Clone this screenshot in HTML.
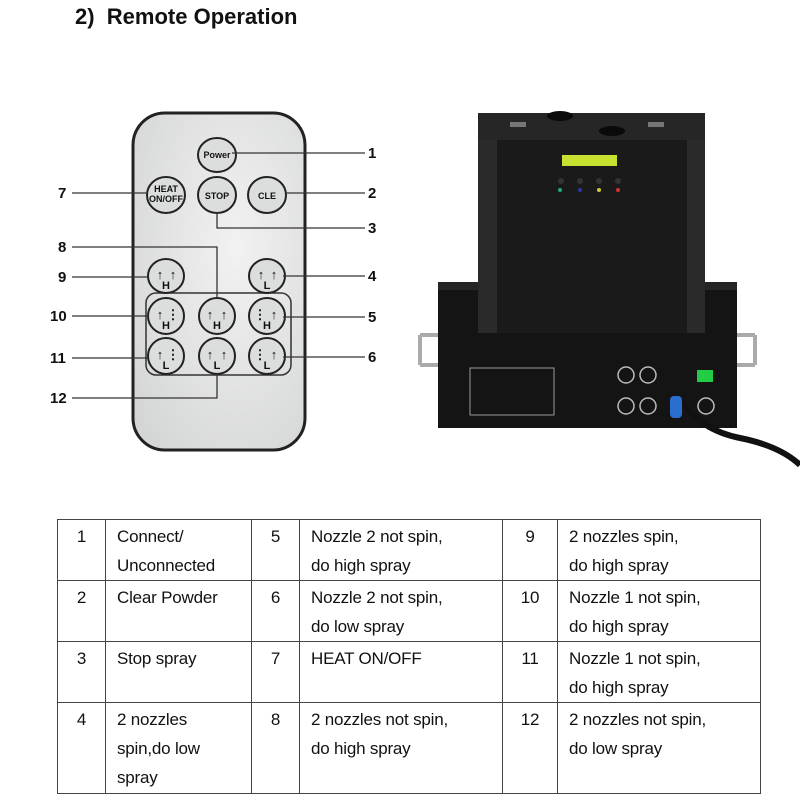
<!DOCTYPE html>
<html><head><meta charset="utf-8"><style>
html,body{margin:0;padding:0;background:#fff;width:800px;height:800px;overflow:hidden;font-family:"Liberation Sans",sans-serif}
.t{position:absolute;left:75px;top:4px;font-size:22px;font-weight:bold;color:#111}
table{position:absolute;left:57px;top:519px;border-collapse:collapse;font-size:17px;color:#111;letter-spacing:-0.2px}
td{border:1.6px solid #444;vertical-align:top;padding:2px 0 0 11px;line-height:29px;box-sizing:border-box}
td.n{text-align:center;padding-left:0}
</style></head><body>
<div class="t">2)&nbsp; Remote Operation</div>
<svg width="800" height="500" style="position:absolute;left:0;top:0" font-family="Liberation Sans, sans-serif">
<defs><radialGradient id="bg" cx="0.6" cy="0.4" r="0.8"><stop offset="0" stop-color="#f1f2f1"/><stop offset="1" stop-color="#d3d5d4"/></radialGradient></defs>
<rect x="133" y="113" width="172" height="337" rx="32" fill="url(#bg)" stroke="#222" stroke-width="3"/>
<rect x="146" y="293" width="145" height="82" rx="10" fill="none" stroke="#333" stroke-width="1.5"/>
<g fill="#dcdedd" stroke="#222" stroke-width="2">
<ellipse cx="217" cy="155" rx="19" ry="17"/>
<ellipse cx="166" cy="195" rx="19" ry="18"/><ellipse cx="217" cy="195" rx="19" ry="18"/><ellipse cx="267" cy="195" rx="19" ry="18"/>
<ellipse cx="166" cy="276" rx="18" ry="17"/><ellipse cx="267" cy="276" rx="18" ry="17"/>
<ellipse cx="166" cy="316" rx="18" ry="18"/><ellipse cx="217" cy="316" rx="18" ry="18"/><ellipse cx="267" cy="316" rx="18" ry="18"/>
<ellipse cx="166" cy="356" rx="18" ry="18"/><ellipse cx="217" cy="356" rx="18" ry="18"/><ellipse cx="267" cy="356" rx="18" ry="18"/>
</g>
<g font-size="9" font-weight="bold" text-anchor="middle" fill="#111">
<text x="217" y="158">Power</text><text x="166" y="192">HEAT</text><text x="166" y="202">ON/OFF</text>
<text x="217" y="199">STOP</text><text x="267" y="199">CLE</text>
<g font-size="11"><text x="166" y="289">H</text><text x="267" y="289">L</text>
<text x="166" y="329">H</text><text x="217" y="329">H</text><text x="267" y="329">H</text>
<text x="166" y="369">L</text><text x="217" y="369">L</text><text x="267" y="369">L</text></g>
<g font-size="13"><text x="160" y="279">↑</text><text x="173" y="279">↑</text><text x="261" y="279">↑</text><text x="274" y="279">↑</text>
<text x="160" y="319">↑</text><text x="210" y="319">↑</text><text x="224" y="319">↑</text><text x="274" y="319">↑</text>
<text x="160" y="359">↑</text><text x="210" y="359">↑</text><text x="224" y="359">↑</text><text x="274" y="359">↑</text>
<text x="173" y="319">⋮</text><text x="260" y="319">⋮</text><text x="173" y="359">⋮</text><text x="260" y="359">⋮</text></g>
</g>
<g stroke="#333" stroke-width="1.3" fill="none">
<path d="M232 153H365M285 193H365M217 212V228H365M72 193H148M72 247H217V298M72 277H148M283 276H365M72 316H148M283 317H365M72 358H148M283 357H365M217 374V398H72"/>
</g>
<g font-size="15" font-weight="bold" fill="#111">
<text x="368" y="158">1</text><text x="368" y="198">2</text><text x="368" y="233">3</text><text x="368" y="281">4</text><text x="368" y="322">5</text><text x="368" y="362">6</text>
<text x="58" y="198">7</text><text x="58" y="252">8</text><text x="58" y="282">9</text><text x="50" y="321">10</text><text x="50" y="363">11</text><text x="50" y="403">12</text>
</g>
<path d="M420 335h18M420 365h18M420 335v30M737 335h18M755 335v30M737 365h18" stroke="#aaa" stroke-width="4" fill="none"/>
<rect x="438" y="282" width="299" height="146" fill="#141414"/>
<rect x="438" y="282" width="299" height="8" fill="#262626"/>
<path d="M478 123L490 113H693L705 123V333H478Z" fill="#1c1c1c"/>
<rect x="497" y="140" width="190" height="193" fill="#1a1a1a"/>
<rect x="478" y="140" width="19" height="193" fill="#2a2a2a"/><rect x="687" y="140" width="18" height="193" fill="#2a2a2a"/>
<rect x="478" y="113" width="227" height="27" fill="#262626"/>
<ellipse cx="560" cy="116" rx="13" ry="5" fill="#0a0a0a"/><ellipse cx="612" cy="131" rx="13" ry="5" fill="#0a0a0a"/>
<rect x="510" y="122" width="16" height="5" fill="#777"/><rect x="648" y="122" width="16" height="5" fill="#777"/>
<rect x="562" y="155" width="55" height="11" fill="#c8e030"/>
<g fill="#333"><circle cx="561" cy="181" r="3"/><circle cx="580" cy="181" r="3"/><circle cx="599" cy="181" r="3"/><circle cx="618" cy="181" r="3"/></g>
<circle cx="560" cy="190" r="2" fill="#2a7"/><circle cx="580" cy="190" r="2" fill="#33a"/><circle cx="599" cy="190" r="2" fill="#cc3"/><circle cx="618" cy="190" r="2" fill="#c33"/>
<rect x="470" y="368" width="84" height="47" fill="none" stroke="#999" stroke-width="1"/>
<g fill="none" stroke="#bbb" stroke-width="1.5"><circle cx="626" cy="375" r="8"/><circle cx="648" cy="375" r="8"/><circle cx="626" cy="406" r="8"/><circle cx="648" cy="406" r="8"/><circle cx="706" cy="406" r="8"/></g>
<rect x="697" y="370" width="16" height="12" fill="#2c4"/>
<path d="M681 400 Q700 430 740 438 T800 465" stroke="#111" stroke-width="6" fill="none"/>
<rect x="670" y="396" width="12" height="22" rx="4" fill="#2a6fd0"/>
</svg>
<table>
<tr style="height:60px"><td class="n" style="width:48px">1</td><td style="width:146px">Connect/<br>Unconnected</td><td class="n" style="width:48px">5</td><td style="width:203px">Nozzle 2 not spin,<br>do high spray</td><td class="n" style="width:55px">9</td><td style="width:203px">2 nozzles spin,<br>do high spray</td></tr>
<tr style="height:60px"><td class="n">2</td><td>Clear Powder</td><td class="n">6</td><td>Nozzle 2 not spin,<br>do low spray</td><td class="n">10</td><td>Nozzle 1 not spin,<br>do high spray</td></tr>
<tr style="height:60px"><td class="n">3</td><td>Stop spray</td><td class="n">7</td><td>HEAT ON/OFF</td><td class="n">11</td><td>Nozzle 1 not spin,<br>do high spray</td></tr>
<tr style="height:91px"><td class="n">4</td><td>2 nozzles<br>spin,do low<br>spray</td><td class="n">8</td><td>2 nozzles not spin,<br>do high spray</td><td class="n">12</td><td>2 nozzles not spin,<br>do low spray</td></tr>
</table>
</body></html>
